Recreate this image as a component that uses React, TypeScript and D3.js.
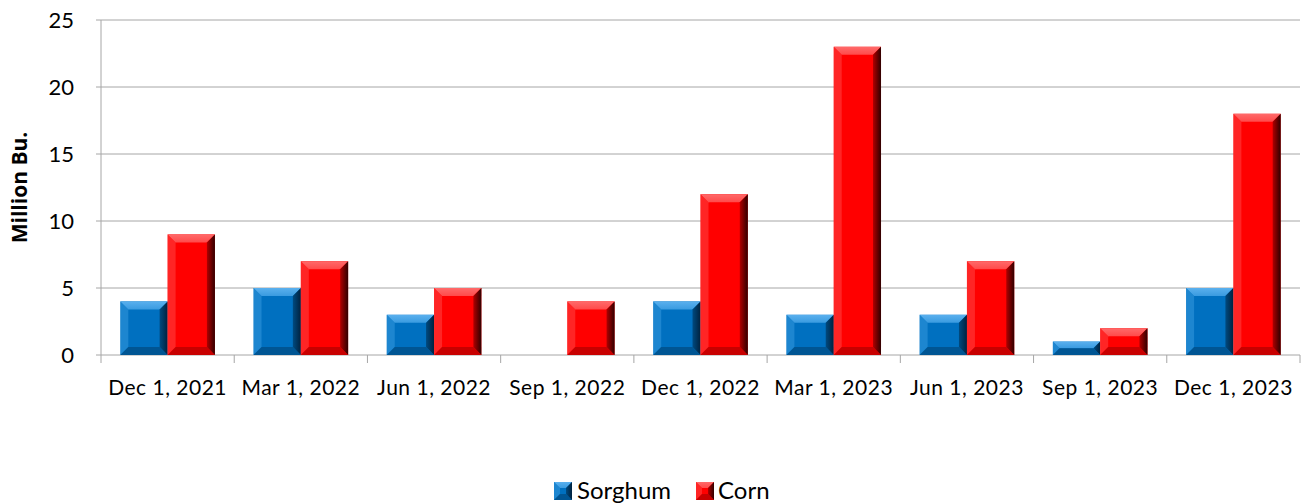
import React from "react";
import * as d3 from "d3";

const categories = ["Dec 1, 2021", "Mar 1, 2022", "Jun 1, 2022", "Sep 1, 2022", "Dec 1, 2022", "Mar 1, 2023", "Jun 1, 2023", "Sep 1, 2023", "Dec 1, 2023"];
const sorghum = [4, 5, 3, 0, 4, 3, 3, 1, 5];
const corn = [9, 7, 5, 4, 12, 23, 7, 2, 18];
const yTicks = [0, 5, 10, 15, 20, 25];
const seriesNames = ["Sorghum", "Corn"];

const W = 1302, H = 504;
const m = { left: 101, right: 1300, top: 20, bottom: 355 };
const FONT = "Lato, 'Open Sans', sans-serif";

const palettes = [
  { base: "#0070C0", light: "#3A9BE0", lighter: "#5AB0EE", dark: "#004A80", darkest: "#00223F", id: "b" },
  { base: "#FF0000", light: "#FF4A4A", lighter: "#FF6A6A", dark: "#B00000", darkest: "#300000", id: "r" },
];

function BevelBar({ x, y, w, h, p, bevel = 8 }: { x: number; y: number; w: number; h: number; p: typeof palettes[0]; bevel?: number }) {
  if (h <= 0) return null;
  const b = Math.min(bevel, h / 2, w / 2);
  const x2 = x + w, y2 = y + h;
  return (
    <g>
      <rect x={x} y={y} width={w} height={h} fill={p.base} />
      <polygon points={`${x},${y} ${x2},${y} ${x2 - b},${y + b} ${x + b},${y + b}`} fill={`url(#top-${p.id})`} />
      <polygon points={`${x},${y} ${x + b},${y + b} ${x + b},${y2 - b} ${x},${y2}`} fill={p.light} opacity={0.5} />
      <polygon points={`${x2},${y} ${x2},${y2} ${x2 - b},${y2 - b} ${x2 - b},${y + b}`} fill={`url(#right-${p.id})`} />
      <polygon points={`${x},${y2} ${x2},${y2} ${x2 - b},${y2 - b} ${x + b},${y2 - b}`} fill={p.dark} opacity={0.7} />
    </g>
  );
}

export default function App() {
  const x0 = d3.scaleBand<string>().domain(categories).range([m.left, m.right]).paddingInner(0.29).paddingOuter(0.145);
  const x1 = d3.scaleBand<string>().domain(seriesNames).range([0, x0.bandwidth()]);
  const y = d3.scaleLinear().domain([0, 25]).range([m.bottom, m.top]);
  const step = (m.right - m.left) / categories.length;
  const series = [sorghum, corn];

  return (
    <svg width={W} height={H} style={{ position: "absolute", left: 0, top: 0 }} fontFamily={FONT}>
      <defs>
        {palettes.map((p) => (
          <React.Fragment key={p.id}>
            <linearGradient id={`top-${p.id}`} x1="0" y1="0" x2="0" y2="1">
              <stop offset="0" stopColor={p.lighter} />
              <stop offset="1" stopColor={p.light} />
            </linearGradient>
            <linearGradient id={`right-${p.id}`} x1="0" y1="0" x2="1" y2="0">
              <stop offset="0" stopColor={p.dark} />
              <stop offset="1" stopColor={p.darkest} />
            </linearGradient>
          </React.Fragment>
        ))}
      </defs>
      <rect width={W} height={H} fill="#fff" />
      {yTicks.map((t) => (
        <g key={t}>
          <line x1={m.left - 5} x2={m.right} y1={y(t)} y2={y(t)} stroke="#A6A6A6" strokeWidth={1} />
          <text x={74} y={y(t)} dy="0.35em" textAnchor="end" fontSize={22} fill="#000">{t}</text>
        </g>
      ))}
      <line x1={m.left} x2={m.left} y1={m.top} y2={m.bottom} stroke="#A6A6A6" />
      {d3.range(categories.length + 1).map((i) => (
        <line key={i} x1={m.left + i * step} x2={m.left + i * step} y1={m.bottom} y2={m.bottom + 8} stroke="#A6A6A6" />
      ))}
      {categories.map((c, i) =>
        series.map((s, k) => (
          <BevelBar key={c + k} x={(x0(c) as number) + (x1(seriesNames[k]) as number)} y={y(s[i])} w={x1.bandwidth()} h={y(0) - y(s[i])} p={palettes[k]} />
        ))
      )}
      {categories.map((c) => (
        <text key={c} x={(x0(c) as number) + x0.bandwidth() / 2} y={388} dy="0.35em" textAnchor="middle" fontSize={21} letterSpacing={0.5}>{c}</text>
      ))}
      <text transform={`translate(20,${(m.top + m.bottom) / 2}) rotate(-90)`} textAnchor="middle" dy="0.35em" fontSize={21} fontWeight="bold" fontFamily="'Open Sans', sans-serif">Million Bu.</text>
      <g transform="translate(554,482)">
        <BevelBar x={0} y={0} w={18} h={18} p={palettes[0]} bevel={6} />
        <text x={23} y={9} dy="0.35em" fontSize={24}>Sorghum</text>
        <BevelBar x={142} y={0} w={18} h={18} p={palettes[1]} bevel={6} />
        <text x={164} y={9} dy="0.35em" fontSize={24}>Corn</text>
      </g>
    </svg>
  );
}
